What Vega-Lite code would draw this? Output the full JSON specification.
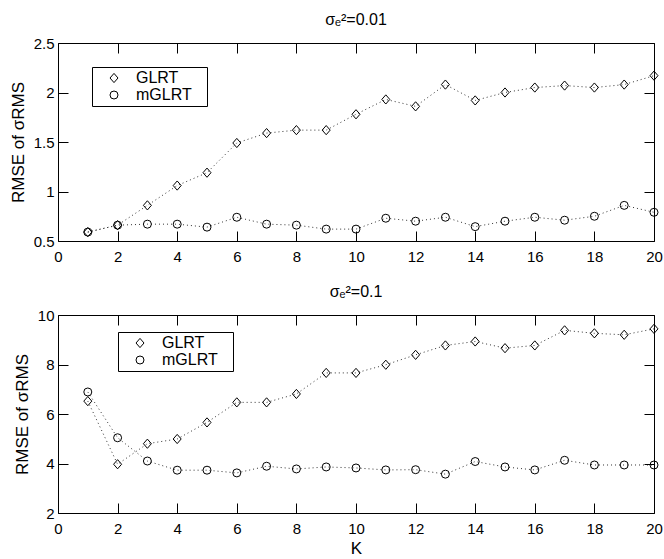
{
  "$schema": "https://vega.github.io/schema/vega-lite/v6.json",
  "background": "white",
  "padding": {"left": 8, "top": 11, "right": 6, "bottom": 0},
  "spacing": 18,
  "config": {
    "font": "Liberation Sans",
    "view": {"stroke": "black", "strokeWidth": 1, "fill": "transparent"},
    "axis": {"grid": false, "labelColor": "black", "titleColor": "black", "labelFont": "Liberation Sans", "titleFont": "Liberation Sans", "labelFontSize": 15, "titleFontSize": 17, "titleFontWeight": "normal", "labelFlush": false, "labelOverlap": false},
    "title": {"font": "Liberation Sans", "fontSize": 16, "fontWeight": "normal", "color": "black", "offset": 8},
    "legend": {"strokeColor": "black", "fillColor": "white", "padding": 3, "rowPadding": 1, "labelFont": "Liberation Sans", "labelFontSize": 16, "labelColor": "black", "symbolOffset": 11, "labelOffset": 14, "symbolSize": 64, "symbolStrokeWidth": 1, "symbolStrokeColor": "black", "symbolFillColor": "transparent"}
  },
  "datasets": {
    "low": [
      {"K":1,"series":"GLRT","v":0.59},{"K":2,"series":"GLRT","v":0.66},{"K":3,"series":"GLRT","v":0.86},{"K":4,"series":"GLRT","v":1.06},{"K":5,"series":"GLRT","v":1.19},
      {"K":6,"series":"GLRT","v":1.49},{"K":7,"series":"GLRT","v":1.59},{"K":8,"series":"GLRT","v":1.62},{"K":9,"series":"GLRT","v":1.62},{"K":10,"series":"GLRT","v":1.78},
      {"K":11,"series":"GLRT","v":1.93},{"K":12,"series":"GLRT","v":1.86},{"K":13,"series":"GLRT","v":2.08},{"K":14,"series":"GLRT","v":1.92},{"K":15,"series":"GLRT","v":2.0},
      {"K":16,"series":"GLRT","v":2.05},{"K":17,"series":"GLRT","v":2.07},{"K":18,"series":"GLRT","v":2.05},{"K":19,"series":"GLRT","v":2.08},{"K":20,"series":"GLRT","v":2.17},
      {"K":1,"series":"mGLRT","v":0.59},{"K":2,"series":"mGLRT","v":0.66},{"K":3,"series":"mGLRT","v":0.67},{"K":4,"series":"mGLRT","v":0.67},{"K":5,"series":"mGLRT","v":0.64},
      {"K":6,"series":"mGLRT","v":0.74},{"K":7,"series":"mGLRT","v":0.67},{"K":8,"series":"mGLRT","v":0.66},{"K":9,"series":"mGLRT","v":0.62},{"K":10,"series":"mGLRT","v":0.62},
      {"K":11,"series":"mGLRT","v":0.73},{"K":12,"series":"mGLRT","v":0.70},{"K":13,"series":"mGLRT","v":0.74},{"K":14,"series":"mGLRT","v":0.645},{"K":15,"series":"mGLRT","v":0.70},
      {"K":16,"series":"mGLRT","v":0.74},{"K":17,"series":"mGLRT","v":0.71},{"K":18,"series":"mGLRT","v":0.75},{"K":19,"series":"mGLRT","v":0.86},{"K":20,"series":"mGLRT","v":0.79}
    ],
    "high": [
      {"K":1,"series":"GLRT","v":6.52},{"K":2,"series":"GLRT","v":3.97},{"K":3,"series":"GLRT","v":4.80},{"K":4,"series":"GLRT","v":4.99},{"K":5,"series":"GLRT","v":5.66},
      {"K":6,"series":"GLRT","v":6.47},{"K":7,"series":"GLRT","v":6.47},{"K":8,"series":"GLRT","v":6.81},{"K":9,"series":"GLRT","v":7.66},{"K":10,"series":"GLRT","v":7.66},
      {"K":11,"series":"GLRT","v":7.99},{"K":12,"series":"GLRT","v":8.39},{"K":13,"series":"GLRT","v":8.77},{"K":14,"series":"GLRT","v":8.93},{"K":15,"series":"GLRT","v":8.66},
      {"K":16,"series":"GLRT","v":8.77},{"K":17,"series":"GLRT","v":9.38},{"K":18,"series":"GLRT","v":9.26},{"K":19,"series":"GLRT","v":9.20},{"K":20,"series":"GLRT","v":9.44},
      {"K":1,"series":"mGLRT","v":6.89},{"K":2,"series":"mGLRT","v":5.04},{"K":3,"series":"mGLRT","v":4.10},{"K":4,"series":"mGLRT","v":3.73},{"K":5,"series":"mGLRT","v":3.73},
      {"K":6,"series":"mGLRT","v":3.62},{"K":7,"series":"mGLRT","v":3.89},{"K":8,"series":"mGLRT","v":3.78},{"K":9,"series":"mGLRT","v":3.86},{"K":10,"series":"mGLRT","v":3.82},
      {"K":11,"series":"mGLRT","v":3.74},{"K":12,"series":"mGLRT","v":3.75},{"K":13,"series":"mGLRT","v":3.57},{"K":14,"series":"mGLRT","v":4.08},{"K":15,"series":"mGLRT","v":3.86},
      {"K":16,"series":"mGLRT","v":3.74},{"K":17,"series":"mGLRT","v":4.13},{"K":18,"series":"mGLRT","v":3.94},{"K":19,"series":"mGLRT","v":3.94},{"K":20,"series":"mGLRT","v":3.94}
    ]
  },
  "vconcat": [
    {
      "title": {"text": "σₑ²=0.01"},
      "width": 596, "height": 198,
      "data": {"name": "low"},
      "layer": [
        {
          "mark": {"type": "line", "strokeDash": [1, 3], "color": "#333", "strokeWidth": 1},
          "encoding": {
            "x": {"field": "K", "type": "quantitative", "scale": {"domain": [0, 20], "nice": false}, "axis": {"orient": "bottom", "values": [0,2,4,6,8,10,12,14,16,18,20], "title": null, "labelPadding": 8, "offset": -10, "tickSize": 10, "tickColor": "black", "tickWidth": 1, "domain": false, "zindex": 2}},
            "y": {"field": "v", "type": "quantitative", "scale": {"domain": [0.5, 2.5], "nice": false, "zero": false}, "axis": {"orient": "left", "values": [0.5,1,1.5,2,2.5], "format": "~r", "title": "RMSE of σRMS", "labelPadding": 4, "titlePadding": 6, "offset": -10, "tickSize": 10, "tickColor": "black", "tickWidth": 1, "domain": false, "zindex": 2}},
            "detail": {"field": "series"}
          }
        },
        {
          "mark": {"type": "point", "filled": false, "color": "black", "strokeWidth": 1, "opacity": 1},
          "encoding": {
            "x": {"field": "K", "type": "quantitative", "axis": {"orient": "top", "values": [0,2,4,6,8,10,12,14,16,18,20], "labels": false, "title": null, "offset": -10, "tickSize": 10, "tickColor": "black", "tickWidth": 1, "domain": false, "zindex": 2}},
            "y": {"field": "v", "type": "quantitative", "axis": {"orient": "right", "values": [0.5,1,1.5,2,2.5], "labels": false, "title": null, "offset": -10, "tickSize": 10, "tickColor": "black", "tickWidth": 1, "domain": false, "zindex": 2}},
            "shape": {"field": "series", "type": "nominal", "scale": {"domain": ["GLRT", "mGLRT"], "range": ["M0,-1.15L1,0L0,1.15L-1,0Z", "circle"]}, "legend": {"title": "\u00a0", "titleOrient": "right", "titlePadding": 12, "titleFontSize": 2, "orient": "none", "legendX": 34, "legendY": 24}},
            "size": {"value": 64}
          }
        }
      ],
      "resolve": {"axis": {"x": "independent", "y": "independent"}}
    },
    {
      "title": {"text": "σₑ²=0.1"},
      "width": 596, "height": 198,
      "data": {"name": "high"},
      "layer": [
        {
          "mark": {"type": "line", "strokeDash": [1, 3], "color": "#333", "strokeWidth": 1},
          "encoding": {
            "x": {"field": "K", "type": "quantitative", "scale": {"domain": [0, 20], "nice": false}, "axis": {"orient": "bottom", "values": [0,2,4,6,8,10,12,14,16,18,20], "title": "K", "labelPadding": 8, "titlePadding": 4, "offset": -10, "tickSize": 10, "tickColor": "black", "tickWidth": 1, "domain": false, "zindex": 2}},
            "y": {"field": "v", "type": "quantitative", "scale": {"domain": [2, 10], "nice": false, "zero": false}, "axis": {"orient": "left", "values": [2,4,6,8,10], "format": "~r", "title": "RMSE of σRMS", "labelPadding": 4, "titlePadding": 6, "offset": -10, "tickSize": 10, "tickColor": "black", "tickWidth": 1, "domain": false, "zindex": 2}},
            "detail": {"field": "series"}
          }
        },
        {
          "mark": {"type": "point", "filled": false, "color": "black", "strokeWidth": 1, "opacity": 1},
          "encoding": {
            "x": {"field": "K", "type": "quantitative", "axis": {"orient": "top", "values": [0,2,4,6,8,10,12,14,16,18,20], "labels": false, "title": null, "offset": -10, "tickSize": 10, "tickColor": "black", "tickWidth": 1, "domain": false, "zindex": 2}},
            "y": {"field": "v", "type": "quantitative", "axis": {"orient": "right", "values": [2,4,6,8,10], "labels": false, "title": null, "offset": -10, "tickSize": 10, "tickColor": "black", "tickWidth": 1, "domain": false, "zindex": 2}},
            "shape": {"field": "series", "type": "nominal", "scale": {"domain": ["GLRT", "mGLRT"], "range": ["M0,-1.15L1,0L0,1.15L-1,0Z", "circle"]}, "legend": {"title": "\u00a0", "titleOrient": "right", "titlePadding": 12, "titleFontSize": 2, "orient": "none", "legendX": 60, "legendY": 17}},
            "size": {"value": 64}
          }
        }
      ],
      "resolve": {"axis": {"x": "independent", "y": "independent"}}
    }
  ],
  "resolve": {"scale": {"shape": "independent", "y": "independent", "x": "independent"}, "legend": {"shape": "independent"}}
}
